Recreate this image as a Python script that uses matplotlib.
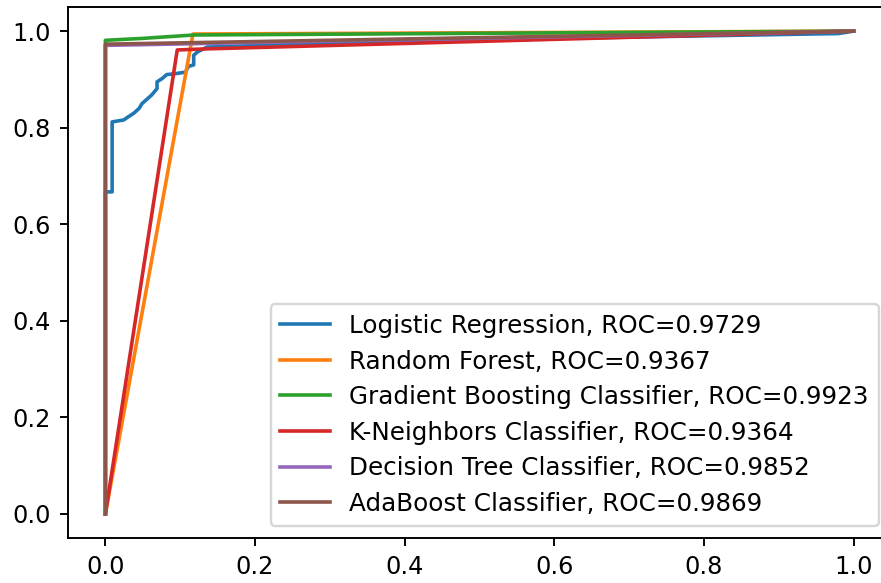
import matplotlib
matplotlib.use('Agg')
import matplotlib.pyplot as plt

# ROC curve points (fpr, tpr)
lr_fpr = [0.0, 0.0, 0.009, 0.009, 0.0245, 0.031, 0.038, 0.045, 0.049, 0.057, 0.062,
          0.069, 0.069, 0.076, 0.082, 0.094, 0.107, 0.111, 0.118, 0.118, 0.123,
          0.136, 0.30, 0.60, 0.98, 1.0]
lr_tpr = [0.0, 0.667, 0.667, 0.812, 0.816, 0.823, 0.830, 0.840, 0.850, 0.861, 0.868,
          0.881, 0.895, 0.902, 0.910, 0.912, 0.915, 0.927, 0.930, 0.950, 0.957,
          0.967, 0.975, 0.985, 0.995, 1.0]

rf_fpr = [0.0, 0.117, 1.0]
rf_tpr = [0.0, 0.994, 1.0]

gb_fpr = [0.0, 0.0, 0.05, 0.118, 1.0]
gb_tpr = [0.0, 0.981, 0.985, 0.992, 1.0]

knn_fpr = [0.0, 0.096, 0.13, 1.0]
knn_tpr = [0.0, 0.961, 0.963, 1.0]

dt_fpr = [0.0, 0.0, 1.0]
dt_tpr = [0.0, 0.9705, 1.0]

ada_fpr = [0.0, 0.0, 1.0]
ada_tpr = [0.0, 0.973, 1.0]

names = ['Logistic Regression', 'Random Forest', 'Gradient Boosting Classifier',
         'K-Neighbors Classifier', 'Decision Tree Classifier', 'AdaBoost Classifier']
aucs = [0.9729, 0.9367, 0.9923, 0.9364, 0.9852, 0.9869]
curves = [(lr_fpr, lr_tpr), (rf_fpr, rf_tpr), (gb_fpr, gb_tpr),
          (knn_fpr, knn_tpr), (dt_fpr, dt_tpr), (ada_fpr, ada_tpr)]

dpi = 173
fig = plt.figure(figsize=(881 / dpi, 583 / dpi), dpi=dpi)
ax = fig.add_axes([68 / 881, 45 / 583, 823 / 881, 531 / 583])

for name, auc, (fpr, tpr) in zip(names, aucs, curves):
    ax.plot(fpr, tpr, label='{}, ROC={:.4f}'.format(name, auc))

ax.legend(loc='lower right', fontsize=10.25, labelspacing=0.47)

fig.savefig('out.png', dpi=dpi)
